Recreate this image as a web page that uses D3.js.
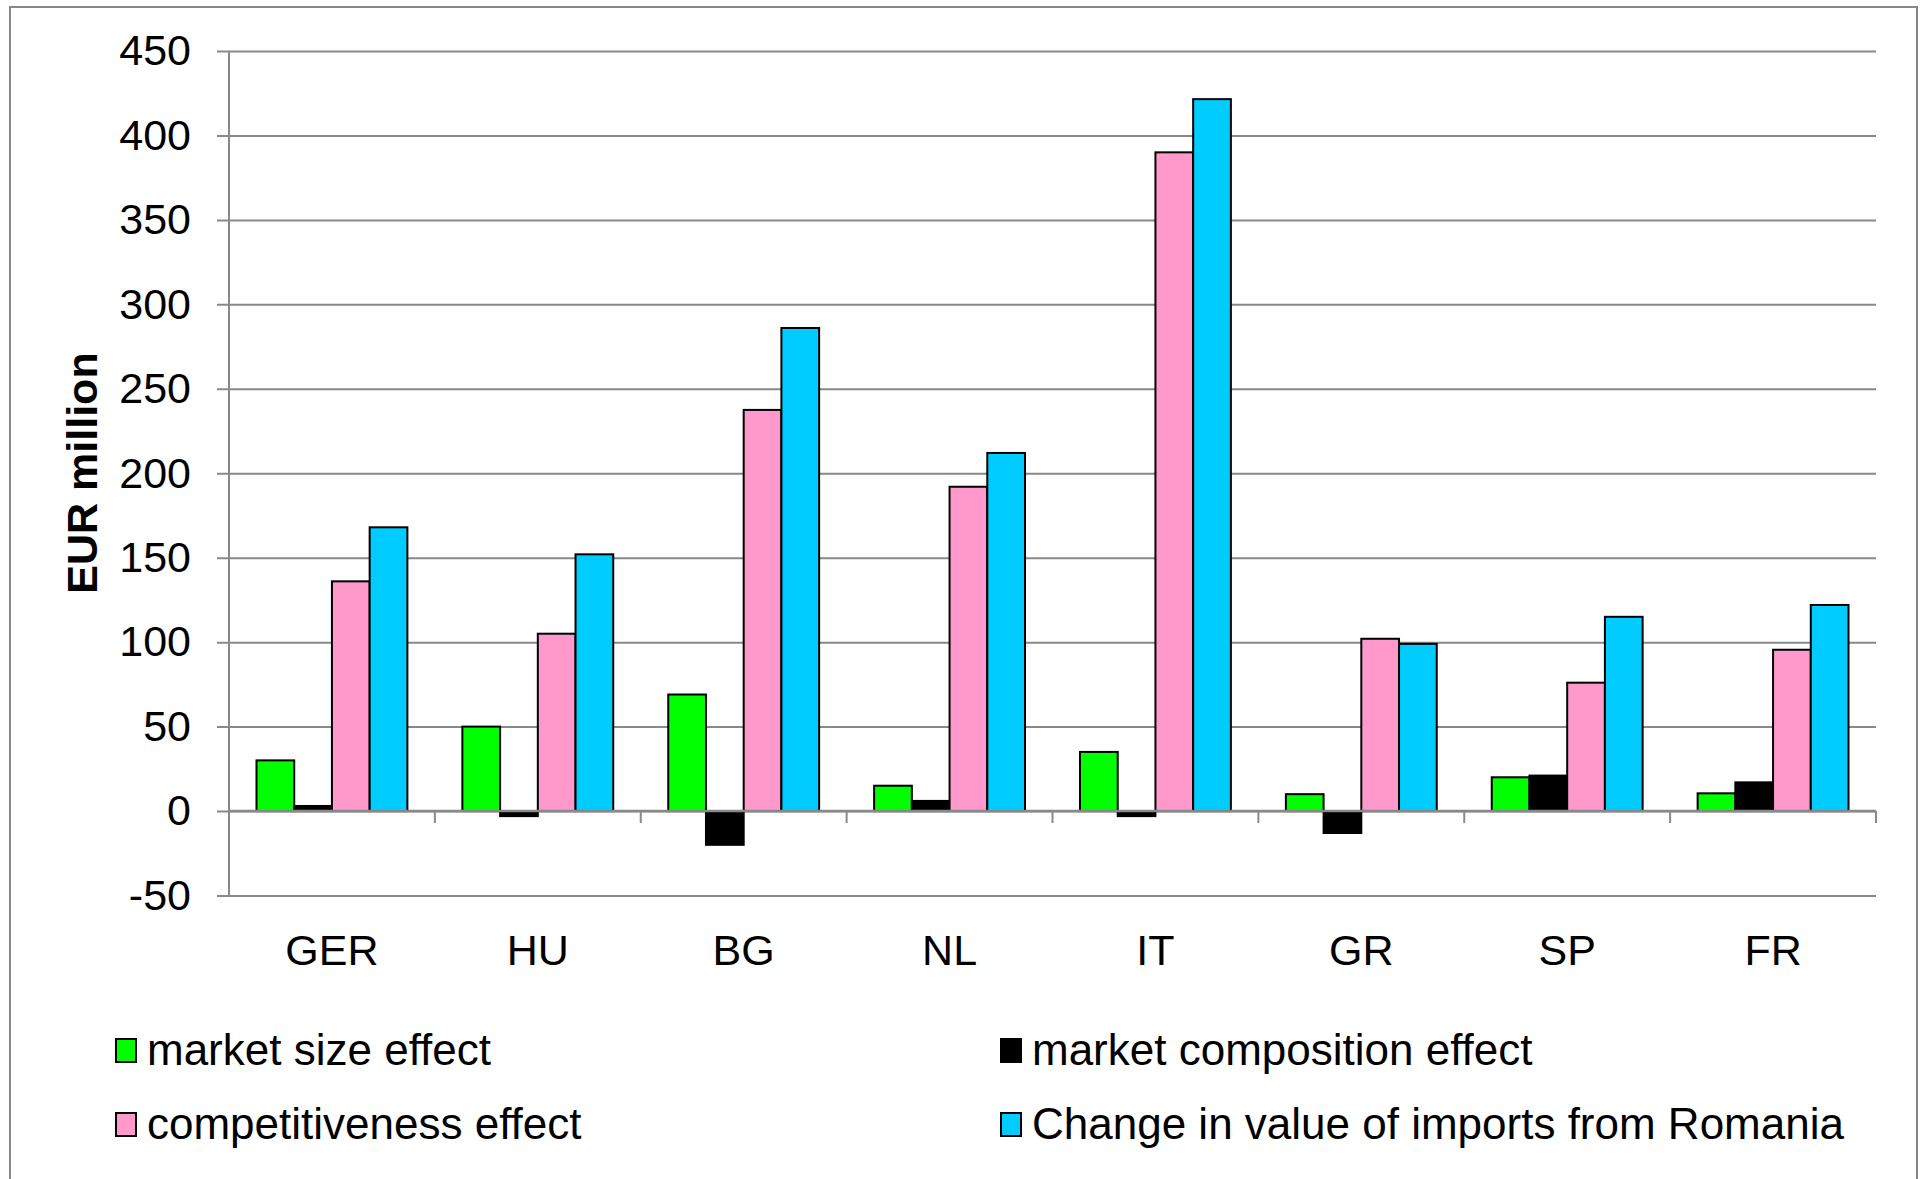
<!DOCTYPE html>
<html>
<head>
<meta charset="utf-8">
<script src="https://cdn.jsdelivr.net/npm/d3@7"></script>
<style>
  html, body { margin: 0; padding: 0; background: #fff; }
  svg { display: block; font-family: "Liberation Sans", Arial, sans-serif; }
</style>
</head>
<body>
<svg id="chart" width="1925" height="1179"></svg>
<script>
const categories = ["GER", "HU", "BG", "NL", "IT", "GR", "SP", "FR"];
const seriesNames = ["market size effect", "market composition effect", "competitiveness effect", "Change in value of imports from Romania"];
const seriesColors = ["#00FF00", "#000000", "#FF99CC", "#00CCFF"];
const marketSize = [30, 50, 69, 15, 35, 10, 20, 10.5];
const marketComposition = [3, -3, -20, 6, -3, -13, 21, 17];
const competitiveness = [136, 105, 237.5, 192, 390, 102, 76, 95.5];
const changeImports = [168, 152, 286, 212, 421.5, 99, 115, 122];
const yTicks = [-50, 0, 50, 100, 150, 200, 250, 300, 350, 400, 450];
const yTitle = "EUR million";

(function () {
const seriesValues = [marketSize, marketComposition, competitiveness, changeImports];

const svg = d3.select("#chart");
const W = 1925, H = 1179;
const pLeft = 229, pRight = 1876, pTop = 51, pBottom = 895.5;
const font = 43;
const legendFont = 44;
const gridColor = "#898989";

svg.append("rect").attr("x", 0).attr("y", 0).attr("width", W).attr("height", H).attr("fill", "#fff");
// outer border
svg.append("rect").attr("x", 10).attr("y", 7).attr("width", 1907).attr("height", 1200)
  .attr("fill", "none").attr("stroke", gridColor).attr("stroke-width", 2);

const y = d3.scaleLinear().domain([-50, 450]).range([pBottom, pTop]);
const x0 = d3.scaleBand().domain(categories).range([pLeft, pRight]).padding(0);
const x1 = d3.scaleBand().domain(d3.range(seriesNames.length)).range([27.5, x0.bandwidth() - 27.5]).padding(0);

// gridlines
const yAxis = d3.axisLeft(y).tickValues(yTicks).tickSize(-(pRight - pLeft)).tickPadding(38).tickFormat(d => String(d));
const gy = svg.append("g").attr("transform", `translate(${pLeft},0)`).call(yAxis);
gy.select(".domain").remove();
gy.selectAll(".tick line").attr("stroke", gridColor).attr("stroke-width", 2).attr("x1", -12);
gy.selectAll(".tick text").attr("font-size", font).attr("fill", "#000").attr("font-family", '"Liberation Sans", Arial, sans-serif');

// y axis line
svg.append("line").attr("x1", pLeft).attr("x2", pLeft).attr("y1", pTop).attr("y2", pBottom)
  .attr("stroke", gridColor).attr("stroke-width", 2);

// bars
const groups = svg.append("g").selectAll("g").data(categories).join("g")
  .attr("transform", d => `translate(${x0(d)},0)`);
groups.selectAll("rect").data((c, ci) => seriesValues.map((vals, si) => ({si, v: vals[ci]})))
  .join("rect")
  .attr("x", d => x1(d.si))
  .attr("width", x1.bandwidth())
  .attr("y", d => y(Math.max(0, d.v)))
  .attr("height", d => Math.abs(y(d.v) - y(0)))
  .attr("fill", d => seriesColors[d.si])
  .attr("stroke", "#000").attr("stroke-width", 2);

// x axis at zero
const xAxisG = svg.append("g");
xAxisG.append("line").attr("x1", pLeft).attr("x2", pRight).attr("y1", y(0)).attr("y2", y(0))
  .attr("stroke", gridColor).attr("stroke-width", 2.5);
const bounds = categories.map(c => x0(c)).concat([pRight]);
xAxisG.selectAll("line.tk").data(bounds).join("line").attr("class", "tk")
  .attr("x1", d => d).attr("x2", d => d).attr("y1", y(0)).attr("y2", y(0) + 12)
  .attr("stroke", gridColor).attr("stroke-width", 2);

// category labels
svg.append("g").selectAll("text").data(categories).join("text")
  .attr("x", d => x0(d) + x0.bandwidth() / 2)
  .attr("y", 965)
  .attr("text-anchor", "middle")
  .attr("font-size", font)
  .text(d => d);

// y title
svg.append("text")
  .attr("transform", "translate(97,473) rotate(-90)")
  .attr("text-anchor", "middle")
  .attr("font-size", font)
  .attr("font-weight", "bold")
  .text(yTitle);

// legend
const legendPos = [[116, 1065], [1001, 1065], [116, 1139], [1001, 1139]];
const lg = svg.append("g").selectAll("g").data(seriesNames).join("g")
  .attr("transform", (d, i) => `translate(${legendPos[i][0]},${legendPos[i][1]})`);
lg.append("rect").attr("x", 0).attr("y", -26).attr("width", 20).attr("height", 23)
  .attr("fill", (d, i) => seriesColors[i]).attr("stroke", "#000").attr("stroke-width", 2);
lg.append("text").attr("x", 31).attr("y", 0).attr("font-size", legendFont).text(d => d);
})();
</script>
</body>
</html>
